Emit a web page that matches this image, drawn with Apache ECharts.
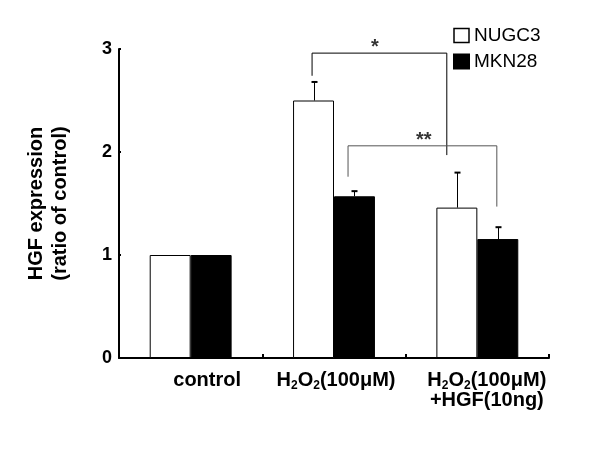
<!DOCTYPE html>
<html>
<head>
<meta charset="utf-8">
<script src="https://cdn.jsdelivr.net/npm/echarts@6/dist/echarts.min.js"></script>
<style>html,body{margin:0;padding:0;background:#fff}#c{width:600px;height:451px}</style>
</head>
<body>
<div id="c"></div>
<script>
// ---- data ----
const categories = ['control', 'H2O2(100μM)', 'H2O2(100μM)\n+HGF(10ng)'];
const seriesNames = ['NUGC3', 'MKN28'];
const nugc3 = [1.0, 2.50, 1.46];
const mkn28 = [1.0, 1.57, 1.155];
const nugc3Err = [0, 0.18, 0.34];
const mkn28Err = [0, 0.05, 0.115];
const yTicks = [0, 1, 2, 3];
// significance brackets: [x, y] in category units / data units
const bracket1 = [[0.847, 2.74], [0.847, 2.96], [1.787, 2.96], [1.787, 1.97]];
const bracket2 = [[1.098, 1.76], [1.098, 2.06], [2.136, 2.06], [2.136, 1.47]];
const stars = [[1.286, 3.01, '*'], [1.627, 2.11, '**']];

const FONT = 'Liberation Sans, Arial, sans-serif';
const BAR_FRAC = 0.2857; // bar width as fraction of category band

function errRender(sign) {
  return function (params, api) {
    const i = api.value(0), top = api.value(1), base = api.value(2);
    const band = api.size([1, 0])[0];
    const dx = sign * band * BAR_FRAC / 2;
    const p1 = api.coord([i, base]);
    const p2 = api.coord([i, top]);
    const x = Math.round(p1[0] + dx) + 0.5;
    return {
      type: 'group',
      children: [
        { type: 'line', shape: { x1: x, y1: p1[1], x2: x, y2: p2[1] }, style: { stroke: '#000', lineWidth: 1 } },
        { type: 'line', shape: { x1: x - 3, y1: p2[1], x2: x + 3, y2: p2[1] }, style: { stroke: '#000', lineWidth: 2 } }
      ]
    };
  };
}
function errData(vals, errs) {
  const out = [];
  vals.forEach((v, i) => { if (errs[i] > 0) out.push([i, v + errs[i], v]); });
  return out;
}

const pads = [33, 4, 19];
function fmtLabel(v, idx) {
  const p = 'p' + idx;
  return v.split('\n').map(line => {
    if (line.indexOf('H2O2') === 0) {
      return '{' + p + '|H}{s|2}{m|O}{s|2}{m|' + line.slice(4) + '}';
    }
    return '{' + p + '|' + line + '}';
  }).join('\n');
}
const baseTxt = { fontFamily: FONT, fontWeight: 'bold', fontSize: 20, color: '#000', lineHeight: 20 };
const rich = {
  m: Object.assign({}, baseTxt),
  s: Object.assign({}, baseTxt, { fontSize: 12, lineHeight: 6, padding: [12, 0, 0, 0] }),
  p0: Object.assign({}, baseTxt, { padding: [0, 0, 0, pads[0]] }),
  p1: Object.assign({}, baseTxt, { padding: [0, 0, 0, pads[1]] }),
  p2: Object.assign({}, baseTxt, { padding: [0, 0, 0, pads[2]] })
};

const chart = echarts.init(document.getElementById('c'), null, { renderer: 'canvas' });
chart.setOption({
  animation: false,
  backgroundColor: '#fff',
  grid: { left: 119, right: 51, top: 49, bottom: 93 },
  legend: {
    orient: 'vertical', left: 453, top: 26, padding: 0,
    itemWidth: 15, itemHeight: 14, itemGap: 7,
    textStyle: { fontFamily: FONT, fontSize: 19, color: '#000', lineHeight: 14, padding: [1, 0, 0, 0] },
    data: [
      { name: seriesNames[0], icon: 'rect', itemStyle: { color: '#fff', borderColor: '#000', borderWidth: 1.5 } },
      { name: seriesNames[1], icon: 'rect', itemStyle: { color: '#000' } }
    ]
  },
  xAxis: [
    {
      type: 'category', data: categories,
      axisLine: { lineStyle: { color: '#000', width: 2 } },
      axisTick: { show: true, inside: true, length: 4, lineStyle: { color: '#000', width: 2 } },
      axisLabel: { interval: 0, margin: 12, formatter: fmtLabel, rich: rich, fontFamily: FONT, fontWeight: 'bold', fontSize: 20, color: '#000' },
      splitLine: { show: false }
    },
    { type: 'value', min: -0.5, max: 2.5, show: false }
  ],
  yAxis: {
    type: 'value', min: 0, max: 3, interval: 1,
    name: 'HGF expression\n(ratio of control)',
    nameLocation: 'middle', nameRotate: 90, nameGap: 47,
    nameTextStyle: { fontFamily: FONT, fontWeight: 'bold', fontSize: 20, color: '#000', lineHeight: 24 },
    axisLine: { show: true, onZero: false, lineStyle: { color: '#000', width: 2 } },
    axisTick: { show: true, inside: true, length: 2, lineStyle: { color: '#000', width: 2 } },
    axisLabel: {
      margin: 7, fontFamily: FONT, fontWeight: 'bold', fontSize: 18, color: '#000',
      formatter: v => (yTicks.indexOf(v) >= 0 ? String(v) : '')
    },
    splitLine: { show: false }
  },
  series: [
    {
      name: seriesNames[0], type: 'bar', data: nugc3, barWidth: (BAR_FRAC * 100) + '%', barGap: '0%',
      itemStyle: { color: '#fff', borderColor: '#000', borderWidth: 1 }
    },
    {
      name: seriesNames[1], type: 'bar', data: mkn28, barWidth: (BAR_FRAC * 100) + '%', barGap: '0%',
      itemStyle: { color: '#000', borderColor: '#000', borderWidth: 1 }
    },
    { type: 'custom', renderItem: errRender(-1), data: errData(nugc3, nugc3Err), z: 5, silent: true },
    { type: 'custom', renderItem: errRender(1), data: errData(mkn28, mkn28Err), z: 5, silent: true },
    {
      type: 'line', xAxisIndex: 1, data: bracket1, symbol: 'none', z: 6, silent: true,
      lineStyle: { color: '#000', width: 1 }
    },
    {
      type: 'line', xAxisIndex: 1, data: bracket2, symbol: 'none', z: 6, silent: true,
      lineStyle: { color: '#555', width: 1 }
    },
    {
      type: 'scatter', xAxisIndex: 1, symbolSize: 0, z: 7, silent: true, clip: false,
      data: stars.map(s => ({ value: [s[0], s[1]], label: { formatter: s[2] } })),
      label: { show: true, position: 'inside', fontFamily: FONT, fontWeight: 'bold', fontSize: 20, color: '#000' }
    }
  ]
});
</script>
</body>
</html>
